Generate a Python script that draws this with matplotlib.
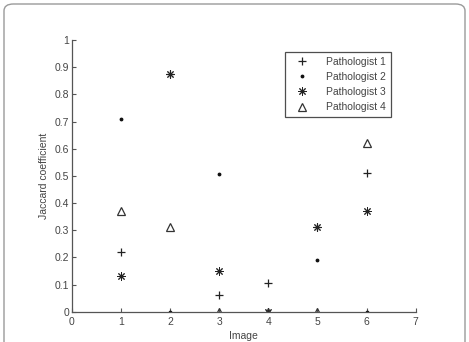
import matplotlib
matplotlib.use("Agg")
import matplotlib.pyplot as plt
from matplotlib.patches import FancyBboxPatch

images = [1, 2, 3, 4, 5, 6]
p1 = [0.22, 0.875, 0.06, 0.105, 0.31, 0.51]
p2 = [0.71, 0.0, 0.505, 0.0, 0.19, 0.0]
p3 = [0.13, 0.875, 0.15, 0.0, 0.31, 0.37]
p4 = [0.37, 0.31, 0.0, 0.0, 0.0, 0.62]
labels = ["Pathologist 1", "Pathologist 2", "Pathologist 3", "Pathologist 4"]
xticks = [0, 1, 2, 3, 4, 5, 6, 7]
yticks = [0, 0.1, 0.2, 0.3, 0.4, 0.5, 0.6, 0.7, 0.8, 0.9, 1]

plt.rcParams['font.family'] = ['Liberation Sans', 'DejaVu Sans']
fig = plt.figure(figsize=(4.69, 3.42), dpi=100)
fig.patch.set_facecolor('white')

frame = FancyBboxPatch((4/469, -0.2), 461/469, (1 - 4/342) + 0.2,
                       boxstyle="round,pad=0,rounding_size=0.02",
                       transform=fig.transFigure, fill=False,
                       edgecolor='#9a9a9a', linewidth=1.0)
fig.patches.append(frame)

ax = fig.add_axes([71.7/469, 1 - 311.7/342, (415.7 - 71.7)/469, (311.7 - 40)/342])
gc = '#555555'
ax.plot(images, p1, linestyle='none', marker='+', color='#222222', markersize=6, markeredgewidth=0.9, label=labels[0])
ax.plot(images, p2, linestyle='none', marker='.', color='#111111', markersize=3.5, label=labels[1])
ax.plot(images, p3, linestyle='none', marker=(8, 2, 0), color='#222222', markersize=6, markeredgewidth=0.7, label=labels[2])
ax.plot(images, p4, linestyle='none', marker='^', markerfacecolor='none', markeredgecolor='#333333', markersize=6, markeredgewidth=0.9, label=labels[3])

ax.set_xlim(0, 7)
ax.set_ylim(0, 1)
ax.set_xticks(xticks)
ax.set_yticks(yticks)
ax.set_xticklabels([str(v) for v in xticks])
ax.set_yticklabels(['0', '0.1', '0.2', '0.3', '0.4', '0.5', '0.6', '0.7', '0.8', '0.9', '1'])
for s in ['top', 'right']:
    ax.spines[s].set_visible(False)
for s in ['left', 'bottom']:
    ax.spines[s].set_color(gc)
    ax.spines[s].set_linewidth(0.9)
ax.tick_params(direction='in', length=3, width=0.8, colors=gc, labelsize=7.5, labelcolor='#444444')
ax.tick_params(axis='x', pad=3.5)
ax.tick_params(axis='y', pad=2)
ax.set_xlabel('Image', fontsize=7.5, color='#444444', labelpad=3)
ax.set_ylabel('Jaccard coefficient', fontsize=7.5, color='#444444', labelpad=4)

leg = ax.legend(loc='upper left', bbox_to_anchor=((285 - 71.7) / 344, 1 - (52 - 40) / 271.7),
                fontsize=7.5, frameon=True, fancybox=False, borderpad=0.45,
                labelspacing=0.5, handlelength=2.4, handletextpad=1.1, borderaxespad=0)
leg.get_frame().set_edgecolor('#222222')
leg.get_frame().set_linewidth(0.9)
for t in leg.get_texts():
    t.set_color('#444444')

fig.savefig('out.png', dpi=100)
